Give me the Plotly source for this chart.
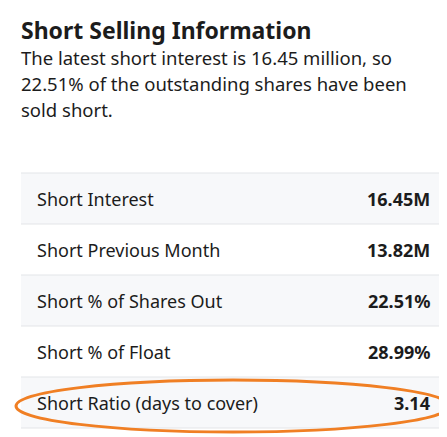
import plotly.graph_objects as go

title = "Short Selling Information"
intro_lines = [
    "The latest short interest is 16.45 million, so",
    "22.51% of the outstanding shares have been",
    "sold short.",
]
labels = ["Short Interest", "Short Previous Month", "Short % of Shares Out",
          "Short % of Float", "Short Ratio (days to cover)"]
values = ["16.45M", "13.82M", "22.51%", "28.99%", "3.14"]

W, H = 447, 437
top, row_h = 165, 51
font = "Noto Sans, Open Sans, sans-serif"

fig = go.Figure()
shapes = []
for i in range(len(labels)):
    y0 = top + i * row_h
    if i % 2 == 0:
        shapes.append(dict(type="rect", x0=13, x1=437, y0=y0, y1=y0 + row_h,
                           fillcolor="#f7f8fa", line_width=0, layer="below"))
    shapes.append(dict(type="line", x0=13, x1=437, y0=y0, y1=y0,
                       line=dict(color="#e3e5e8", width=1)))
shapes.append(dict(type="line", x0=13, x1=437, y0=top + len(labels) * row_h,
                   y1=top + len(labels) * row_h, line=dict(color="#e3e5e8", width=1)))
shapes.append(dict(type="circle", x0=8, x1=442, y0=372, y1=424,
                   line=dict(color="#f07f24", width=3)))

ys = [top + row_h * (i + 0.5) for i in range(len(labels))]
for i in range(len(labels)):
    fig.add_annotation(x=27, y=ys[i], text=labels[i], showarrow=False,
                       xanchor="left", yanchor="middle",
                       font=dict(family=font, size=18, color="#1c1c1c"))
    fig.add_annotation(x=424, y=ys[i], text="<b>%s</b>" % values[i], showarrow=False,
                       xanchor="right", yanchor="middle",
                       font=dict(family=font, size=18, color="#1c1c1c"))

fig.add_annotation(x=11, y=22, text="<b>%s</b>" % title, showarrow=False,
                   xanchor="left", yanchor="middle",
                   font=dict(family=font, size=23, color="#1c1c1c"))
for j, line in enumerate(intro_lines):
    fig.add_annotation(x=11, y=49 + 26 * j, text=line, showarrow=False,
                       xanchor="left", yanchor="middle",
                       font=dict(family=font, size=18.5, color="#1c1c1c"))

fig.update_layout(width=W, height=H,
                  margin=dict(l=0, r=0, t=0, b=0, pad=0, autoexpand=False),
                  plot_bgcolor="white", paper_bgcolor="white", showlegend=False,
                  shapes=shapes,
                  xaxis=dict(range=[0, W], visible=False, fixedrange=True),
                  yaxis=dict(range=[H, 0], visible=False, fixedrange=True))
fig.write_html("out.html", config={"displayModeBar": False})
